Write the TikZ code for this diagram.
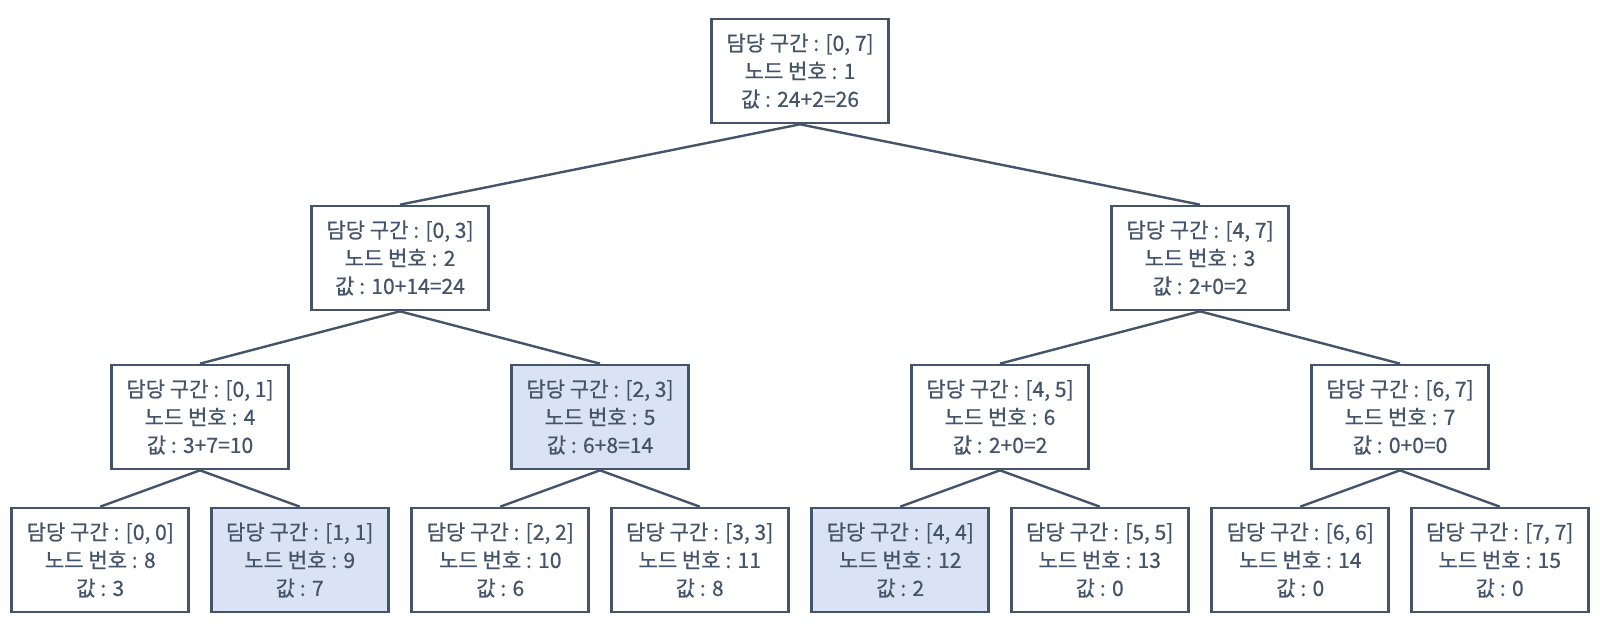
\documentclass[tikz,border=0pt]{standalone}
\usepackage{fontspec}
\setmainfont{Noto Sans CJK KR}[FakeBold=0.6]
\usepackage{xcolor}
\usepackage{tikz}
\definecolor{slate}{HTML}{44546A}
\definecolor{hitblue}{HTML}{DAE3F3}
\tikzset{
  seg/.style={rectangle,draw=slate,line width=2pt,fill=white,text=slate,align=center,
    minimum width=132.75pt,minimum height=78pt,inner sep=0pt,
    font=\fontsize{15.8pt}{21pt}\selectfont},
  hit/.style={fill=hitblue}
}

\begin{document}
\begin{tikzpicture}[x=1pt,y=1pt,every node/.style={seg},
    parent anchor=south,child anchor=north,
    edge from parent/.style={draw=slate,line width=1.8pt},
    level 1/.style={sibling distance=600pt,level distance=140.25pt},
    level 2/.style={sibling distance=300pt,level distance=119.25pt},
    level 3/.style={sibling distance=149.6pt,level distance=107.25pt}]
    \useasboundingbox (0,0) rectangle (1200,472.5);
    \node(n1) at (600,419.25) {담당 구간 : [0, 7]\\노드 번호 : 1\\값 : 24+2=26}
    child{
      node(n2){담당 구간 : [0, 3]\\노드 번호 : 2\\값 : 10+14=24}
      child{
        node(n4){담당 구간 : [0, 1]\\노드 번호 : 4\\값 : 3+7=10}
        child{node(n8){담당 구간 : [0, 0]\\노드 번호 : 8\\값 : 3}}
        child{node[hit](n9){담당 구간 : [1, 1]\\노드 번호 : 9\\값 : 7}}
      }
      child{
        node[hit](n5){담당 구간 : [2, 3]\\노드 번호 : 5\\값 : 6+8=14}
        child{node(n10){담당 구간 : [2, 2]\\노드 번호 : 10\\값 : 6}}
        child{node(n11){담당 구간 : [3, 3]\\노드 번호 : 11\\값 : 8}}
      }
    }
    child{
      node(n3){담당 구간 : [4, 7]\\노드 번호 : 3\\값 : 2+0=2}
      child{
        node(n6){담당 구간 : [4, 5]\\노드 번호 : 6\\값 : 2+0=2}
        child{node[hit](n12){담당 구간 : [4, 4]\\노드 번호 : 12\\값 : 2}}
        child{node(n13){담당 구간 : [5, 5]\\노드 번호 : 13\\값 : 0}}
      }
      child{
        node(n7){담당 구간 : [6, 7]\\노드 번호 : 7\\값 : 0+0=0}
        child{node(n14){담당 구간 : [6, 6]\\노드 번호 : 14\\값 : 0}}
        child{node(n15){담당 구간 : [7, 7]\\노드 번호 : 15\\값 : 0}}
      }
    };
  \end{tikzpicture}
\end{document}
